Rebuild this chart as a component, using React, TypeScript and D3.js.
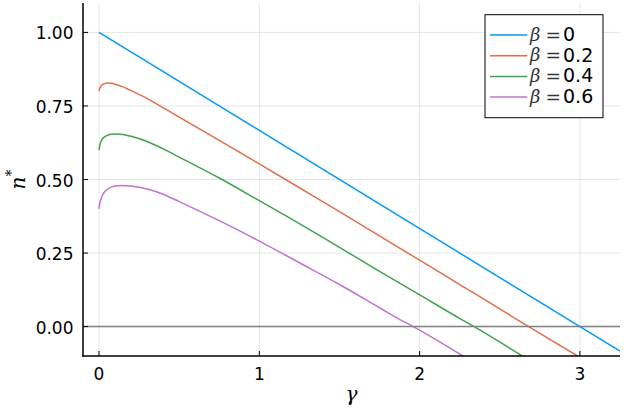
import React from "react";
import * as d3 from "d3";

const seriesLabels = ["0", "0.2", "0.4", "0.6"];
const seriesColors = ["#009AFA", "#E36F47", "#3EA44E", "#C371D2"];

const gammaB0 = [0, 3.25];
const nB0 = [1.0, -0.0833];

const gammaB02 = [0, 0.005, 0.01, 0.02, 0.035, 0.05, 0.075, 0.1, 0.15, 0.2, 0.3, 0.4, 0.5, 0.75, 1.0, 1.25, 1.5, 1.75, 2.0, 2.25, 2.5, 2.68, 2.985];
const nB02 = [0.8, 0.81, 0.816, 0.822, 0.826, 0.828, 0.827, 0.824, 0.815, 0.802, 0.775, 0.744, 0.712, 0.633, 0.553, 0.472, 0.391, 0.308, 0.226, 0.143, 0.06, 0.0, -0.1];

const gammaB04 = [0, 0.005, 0.01, 0.02, 0.035, 0.05, 0.075, 0.1, 0.15, 0.2, 0.3, 0.4, 0.5, 0.75, 1.0, 1.25, 1.5, 1.75, 2.0, 2.265, 2.34, 2.64];
const nB04 = [0.6, 0.617, 0.626, 0.637, 0.645, 0.65, 0.654, 0.655, 0.653, 0.647, 0.629, 0.604, 0.576, 0.505, 0.428, 0.35, 0.269, 0.188, 0.108, 0.023, 0.0, -0.1];

const gammaB06 = [0, 0.005, 0.01, 0.02, 0.035, 0.05, 0.075, 0.1, 0.14, 0.2, 0.3, 0.4, 0.5, 0.75, 0.985, 1.25, 1.5, 1.75, 1.88, 1.96, 2.27];
const nB06 = [0.4, 0.42, 0.43, 0.445, 0.458, 0.466, 0.474, 0.478, 0.48, 0.478, 0.468, 0.45, 0.425, 0.36, 0.295, 0.217, 0.143, 0.064, 0.023, 0.0, -0.1];

const seriesGamma = [gammaB0, gammaB02, gammaB04, gammaB06];
const seriesN = [nB0, nB02, nB04, nB06];

const xTicks = [0, 1, 2, 3];
const yTicks = [0, 0.25, 0.5, 0.75, 1.0];
const yTickLabels = ["0.00", "0.25", "0.50", "0.75", "1.00"];

const W = 624;
const H = 409;
const left = 83;
const right = 620;
const top = 3;
const bottom = 356;

export default function App() {
  const x = d3.scaleLinear().domain([-0.1, 3.25]).range([left, right]);
  const y = d3.scaleLinear().domain([-0.1, 1.1]).range([bottom, top]);

  const line = d3
    .line<[number, number]>()
    .x((d) => x(d[0]))
    .y((d) => y(d[1]))
    .curve(d3.curveMonotoneX);

  const sans = "'DejaVu Sans', sans-serif";
  const serif = "'DejaVu Serif', serif";

  const legendX = 485;
  const legendY = 14.7;
  const legendW = 118;
  const legendH = 103;
  const rowY = [35, 55.7, 76.4, 97.1];

  return (
    <svg
      width={W}
      height={H}
      style={{ position: "absolute", left: 0, top: 0, background: "#fff" }}
    >
      <rect x={0} y={0} width={W} height={H} fill="#fff" />
      <defs>
        <clipPath id="plotclip">
          <rect x={left} y={top} width={right - left} height={bottom - top} />
        </clipPath>
      </defs>
      {/* grid */}
      {xTicks.map((t) => (
        <line key={"gx" + t} x1={x(t)} x2={x(t)} y1={top} y2={bottom} stroke="#000" strokeOpacity={0.1} strokeWidth={1} />
      ))}
      {yTicks.map((t) => (
        <line key={"gy" + t} x1={left} x2={right} y1={y(t)} y2={y(t)} stroke="#000" strokeOpacity={0.1} strokeWidth={1} />
      ))}
      {/* series */}
      <g clipPath="url(#plotclip)">
        {seriesGamma.map((gs, i) => {
          const pts = gs.map((g, j) => [g, seriesN[i][j]] as [number, number]);
          return (
            <path key={"s" + i} d={line(pts) || ""} fill="none" stroke={seriesColors[i]} strokeWidth={1.5} />
          );
        })}
        <line x1={left} x2={right} y1={y(0)} y2={y(0)} stroke="#808080" strokeWidth={1.5} />
      </g>
      {/* axes */}
      <line x1={left} x2={left} y1={top} y2={bottom + 0.75} stroke="#000" strokeWidth={1.5} />
      <line x1={left - 0.75} x2={right} y1={bottom} y2={bottom} stroke="#000" strokeWidth={1.5} />
      {xTicks.map((t) => (
        <g key={"xt" + t}>
          <line x1={x(t)} x2={x(t)} y1={bottom} y2={bottom - 5} stroke="#000" strokeWidth={1} />
          <text x={x(t)} y={380} textAnchor="middle" fontFamily={sans} fontSize={17} fill="#000">
            {t}
          </text>
        </g>
      ))}
      {yTicks.map((t, i) => (
        <g key={"yt" + t}>
          <line x1={left} x2={left + 5} y1={y(t)} y2={y(t)} stroke="#000" strokeWidth={1} />
          <text x={73.5} y={y(t) + 7} textAnchor="end" fontFamily={sans} fontSize={17} fill="#000">
            {yTickLabels[i]}
          </text>
        </g>
      ))}
      {/* axis labels */}
      <text x={(left + right) / 2} y={401} textAnchor="middle" fontFamily={serif} fontStyle="italic" fontSize={20} fill="#000">
        γ
      </text>
      <g transform={`translate(25, ${(top + bottom) / 2}) rotate(-90)`}>
        <text x={0} y={0} textAnchor="middle" fontFamily={serif} fontSize={20} fill="#000">
          <tspan fontStyle="italic">n</tspan>
          <tspan fontSize={14} dy={-9}>*</tspan>
        </text>
      </g>
      {/* legend */}
      <rect x={legendX} y={legendY} width={legendW} height={legendH} fill="#fff" stroke="#000" strokeWidth={1} />
      {seriesLabels.map((lab, i) => (
        <g key={"lg" + i}>
          <line x1={490} x2={527.3} y1={rowY[i]} y2={rowY[i]} stroke={seriesColors[i]} strokeWidth={1.5} />
          <text x={530} y={rowY[i] + 5.5} fontFamily={serif} fontStyle="italic" fontSize={18} fill="#333">
            β
          </text>
          <text x={545.5} y={rowY[i] + 5.5} fontFamily={sans} fontSize={18.5} fill="#333">
            =
          </text>
          <text x={563} y={rowY[i] + 6} fontFamily={sans} fontSize={19} fill="#000">
            {lab}
          </text>
        </g>
      ))}
    </svg>
  );
}
